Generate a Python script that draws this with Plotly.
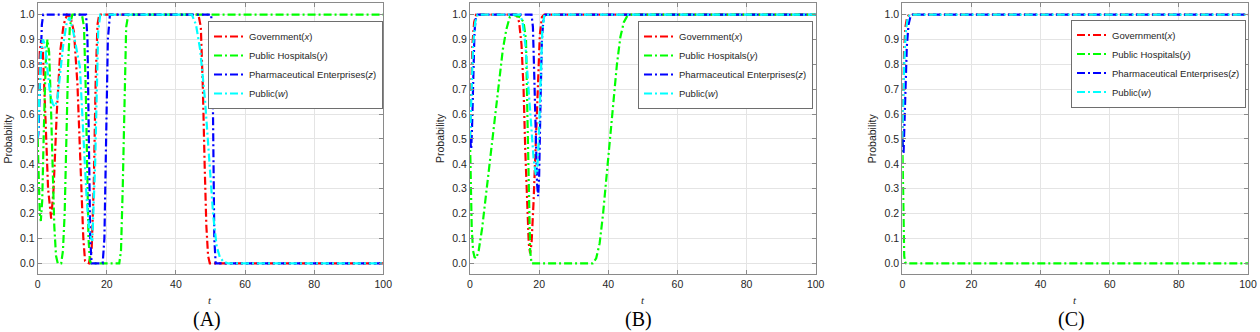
import plotly.graph_objects as go

# ---------------- Panel A ----------------
tA_x = [0, 0.3, 0.6, 1.0, 1.5, 2.2, 3.0, 3.9, 4.6, 5.5, 6.5, 7.5, 8.5, 9.5, 10.5, 11.5, 12.5, 13.2, 13.7, 14.8,
        15.6, 16.2, 16.8, 17.3, 17.8, 46.5, 47.2, 47.8, 48.3, 48.8, 49.3, 49.8, 100]
vA_x = [0.5, 0.7, 0.85, 0.9, 0.85, 0.6, 0.3, 0.18, 0.3, 0.6, 0.85, 0.96, 1.0, 0.99, 0.93, 0.72, 0.38, 0.1, 0.01, 0,
        0.05, 0.3, 0.75, 0.96, 1.0, 1.0, 0.95, 0.7, 0.4, 0.15, 0.03, 0, 0]

tA_y = [0, 0.3, 0.6, 0.9, 1.3, 1.8, 2.3, 2.8, 3.3, 3.8, 4.3, 4.8, 5.3, 5.8, 6.8, 7.3, 7.8, 8.3, 8.8, 9.3, 10.0,
        12.8, 13.4, 13.9, 14.3, 14.7, 15.1, 15.5, 23.6, 24.1, 24.6, 25.1, 25.6, 26.2, 100]
vA_y = [0.5, 0.3, 0.2, 0.17, 0.25, 0.55, 0.8, 0.9, 0.85, 0.65, 0.38, 0.15, 0.03, 0, 0, 0.05, 0.2, 0.5, 0.8, 0.95, 1.0,
        1.0, 0.95, 0.7, 0.35, 0.1, 0.01, 0, 0, 0.05, 0.3, 0.7, 0.95, 1.0, 1.0]

tA_z = [0, 0.2, 0.5, 0.8, 1.2, 1.6, 14.0, 14.4, 14.8, 15.2, 15.6, 18.8, 19.3, 19.8, 20.3, 20.9, 50.2, 50.5, 50.8,
        51.1, 51.5, 100]
vA_z = [0.5, 0.52, 0.65, 0.82, 0.96, 1.0, 1.0, 0.9, 0.5, 0.1, 0, 0, 0.1, 0.5, 0.9, 1.0, 1.0, 0.9, 0.5,
        0.1, 0, 0]

tA_w = [0, 0.4, 0.9, 1.5, 2.1, 2.8, 3.6, 4.4, 5.0, 5.7, 6.5, 7.4, 8.3, 9.2, 10.3, 11.2, 12.2, 13.2, 14.2, 15.0,
        15.8, 16.6, 17.1, 17.5, 18.1, 44.6, 45.8, 47.0, 48.4, 49.9, 50.8, 51.8, 52.7, 53.7, 55.0, 100]
vA_w = [0.5, 0.68, 0.84, 0.9, 0.88, 0.78, 0.68, 0.64, 0.63, 0.66, 0.76, 0.88, 0.96, 0.99, 0.93, 0.87, 0.79, 0.52, 0.25, 0.12,
        0.09, 0.39, 0.75, 0.93, 1.0, 1.0, 0.96, 0.86, 0.66, 0.39, 0.19, 0.067, 0.025, 0.007, 0, 0]

# ---------------- Panel B ----------------
tB_x = [0, 0.3, 0.7, 1.2, 1.8, 13.5, 14.2, 14.9, 15.5, 16.0, 16.5, 17.0, 17.4, 17.8, 18.4, 19.0, 19.6, 20.2, 20.8,
        21.5, 100]
vB_x = [0.5, 0.7, 0.88, 0.97, 1.0, 1.0, 0.97, 0.88, 0.7, 0.45, 0.22, 0.08, 0.04, 0.08, 0.25, 0.5, 0.75, 0.92, 0.99,
        1.0, 1.0]

tB_y = [0, 0.2, 0.5, 0.9, 1.3, 1.8, 2.5, 3.5, 4.5, 5.5, 6.5, 7.5, 8.5, 9.5, 10.5, 11.5, 12.5, 14.5, 15.5, 16.2,
        16.6, 17.0, 17.4, 17.8, 35.5, 36.5, 37.5, 38.5, 39.5, 40.5, 41.5, 42.5, 43.5, 44.5, 45.5, 46.5, 100]
vB_y = [0.5, 0.3, 0.14, 0.05, 0.025, 0.02, 0.05, 0.14, 0.26, 0.38, 0.5, 0.63, 0.75, 0.86, 0.94, 0.99, 1.0, 0.99, 0.97, 0.9,
        0.6, 0.25, 0.05, 0, 0, 0.02, 0.08, 0.2, 0.35, 0.5, 0.65, 0.8, 0.91, 0.97, 0.995, 1.0, 1.0]

tB_z = [0, 0.15, 0.35, 0.6, 0.9, 1.3, 1.7, 2.2, 17.8, 18.2, 18.6, 19.0, 19.4, 19.7, 20.0, 20.4, 20.8, 21.3, 21.8, 100]
vB_z = [0.5, 0.47, 0.46, 0.55, 0.75, 0.93, 0.99, 1.0, 1.0, 0.95, 0.75, 0.5, 0.32, 0.27, 0.35, 0.65, 0.9, 0.99, 1.0, 1.0]

tB_w = [0, 0.4, 0.9, 1.5, 2.2, 14.5, 15.2, 16.0, 16.8, 17.6, 18.4, 19.0, 19.4, 19.9, 20.4, 20.9, 21.5, 100]
vB_w = [0.5, 0.7, 0.88, 0.97, 1.0, 1.0, 0.97, 0.88, 0.72, 0.55, 0.42, 0.36, 0.36, 0.5, 0.75, 0.93, 1.0, 1.0]

# ---------------- Panel C ----------------
tC_x = [0, 0.2, 0.5, 0.9, 1.4, 2.0, 100]
vC_x = [0.5, 0.7, 0.85, 0.95, 0.99, 1.0, 1.0]

tC_y = [0, 0.15, 0.35, 0.55, 0.8, 1.1, 100]
vC_y = [0.5, 0.3, 0.12, 0.03, 0.005, 0, 0]

tC_z = [0, 0.15, 0.35, 0.6, 0.9, 1.3, 1.8, 2.4, 3.0, 100]
vC_z = [0.5, 0.45, 0.44, 0.55, 0.72, 0.87, 0.96, 0.995, 1.0, 1.0]

tC_w = [0, 0.25, 0.6, 1.0, 1.6, 2.3, 100]
vC_w = [0.5, 0.65, 0.82, 0.93, 0.99, 1.0, 1.0]

series_names = ["Government(<i>x</i>)", "Public Hospitals(<i>y</i>)",
                "Pharmaceutical Enterprises(<i>z</i>)", "Public(<i>w</i>)"]
series_colors = ["#FF0000", "#00FF00", "#0000FF", "#00FFFF"]
panel_labels = ["(A)", "(B)", "(C)"]
x_ticks = [0, 20, 40, 60, 80, 100]

panels = [
    [(tA_x, vA_x), (tA_y, vA_y), (tA_z, vA_z), (tA_w, vA_w)],
    [(tB_x, vB_x), (tB_y, vB_y), (tB_z, vB_z), (tB_w, vB_w)],
    [(tC_x, vC_x), (tC_y, vC_y), (tC_z, vC_z), (tC_w, vC_w)],
]

W, H = 1260, 332
x_dom_px = [(37.7, 383.3), (470.0, 815.7), (902.3, 1248.0)]
y_top_px, y_bot_px = 2.7, 274.0
legend_left_px = [208, 638, 1071]
legend_top_px = [21, 21, 19.5]
ylabel_x_px = [8.3, 440.7, 872.0]
tlabel_x_px = [210.0, 642.7, 1075.0]
plabel_x_px = [206.7, 638.0, 1071.0]

DASH = "8px,3px,2px,3px"
fig = go.Figure()
layout = dict(width=W, height=H, autosize=False, margin=dict(l=0, r=0, t=0, b=0, pad=0),
              paper_bgcolor="white", plot_bgcolor="white", showlegend=True,
              font=dict(family="Liberation Sans, Arial, sans-serif", color="#262626"))
annotations = []
for p in range(3):
    sfx = "" if p == 0 else str(p + 1)
    leg = "legend" if p == 0 else "legend" + str(p + 1)
    for k, (tt, vv) in enumerate(panels[p]):
        fig.add_trace(go.Scatter(x=tt, y=vv, mode="lines", name=series_names[k],
                                 line=dict(color=series_colors[k], width=2.2, dash=DASH),
                                 xaxis="x" + sfx, yaxis="y" + sfx, legend=leg))
    x0, x1 = x_dom_px[p]
    common = dict(showgrid=True, gridcolor="#e4e4e4", gridwidth=1, automargin=False,
                  zeroline=False, showline=True, linecolor="#8a8a8a", linewidth=1,
                  mirror="ticks", ticks="inside", ticklen=4, tickcolor="#8a8a8a",
                  tickfont=dict(size=10.5, color="#262626"))
    layout["xaxis" + sfx] = dict(domain=[x0 / W, x1 / W], range=[0, 100], tickvals=x_ticks,
                                 anchor="y" + sfx, **common)
    layout["yaxis" + sfx] = dict(domain=[1 - y_bot_px / H, 1 - y_top_px / H], range=[-0.043, 1.048],
                                 tick0=0, dtick=0.1, tickformat=".1f", anchor="x" + sfx, **common)
    layout[leg] = dict(x=legend_left_px[p] / W, y=1 - legend_top_px[p] / H, xanchor="left", yanchor="top",
                       bgcolor="white", bordercolor="#6e6e6e", borderwidth=1,
                       font=dict(size=9.5, color="#262626", family="Liberation Sans, Arial, sans-serif"),
                       itemwidth=30, tracegroupgap=0)
    annotations.append(dict(x=ylabel_x_px[p] / W, y=1 - 138.3 / H, xref="paper", yref="paper",
                            text="Probability", textangle=-90, showarrow=False,
                            font=dict(size=10.5, color="#262626"), xanchor="center", yanchor="middle"))
    annotations.append(dict(x=tlabel_x_px[p] / W, y=1 - 300 / H, xref="paper", yref="paper",
                            text="<i>t</i>", showarrow=False,
                            font=dict(size=11, color="#262626", family="Liberation Serif, serif"),
                            xanchor="center", yanchor="middle"))
    annotations.append(dict(x=plabel_x_px[p] / W, y=1 - 319 / H, xref="paper", yref="paper",
                            text=panel_labels[p], showarrow=False,
                            font=dict(size=20, color="#000000", family="Liberation Serif, Times New Roman, serif"),
                            xanchor="center", yanchor="middle"))
layout["annotations"] = annotations
fig.update_layout(**layout)
fig.write_html("out.html", config={"displayModeBar": False},
               post_script="document.body.style.margin='0';document.body.style.padding='0';"
                           "document.body.style.overflow='hidden';")
